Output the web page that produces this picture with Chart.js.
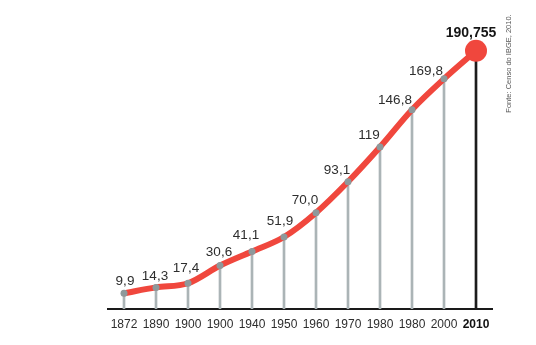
<!DOCTYPE html>
<html>
<head>
<meta charset="utf-8">
<script src="https://cdn.jsdelivr.net/npm/chart.js@4/dist/chart.umd.min.js"></script>
<style>
html,body{margin:0;padding:0;background:#fff;}
#wrap{width:536px;height:345px;position:relative;}
</style>
</head>
<body>
<div id="wrap"><canvas id="c" width="536" height="345"></canvas></div>
<script>
// ---- data ----
const categories = ['1872','1890','1900','1900','1940','1950','1960','1970','1980','1980','2000','2010'];
const population = [9.9, 14.3, 17.4, 30.6, 41.1, 51.9, 70.0, 93.1, 119, 146.8, 169.8, 190.755];
const valueLabels = ['9,9','14,3','17,4','30,6','41,1','51,9','70,0','93,1','119','146,8','169,8','190,755'];
const sourceNote = 'Fonte: Censo do IBGE, 2010.';

// ---- styles ----
const labelOffsets = [[1,-12],[-1,-11],[-2,-15],[-1,-13],[-6,-16],[-4,-16],[-11,-12],[-11,-11],[-11,-12],[-17,-9],[-18,-8],[-5,-18]];
const last = population.length - 1;
const FONT = "'Liberation Sans', Arial, Helvetica, sans-serif";

const labelPlugin = {
  id: 'valueLabels',
  afterDatasetsDraw(chart) {
    const ctx = chart.ctx;
    const meta = chart.getDatasetMeta(0);
    ctx.save();
    ctx.textAlign = 'center';
    ctx.textBaseline = 'middle';
    meta.data.forEach((pt, i) => {
      const off = labelOffsets[i];
      if (i === last) { ctx.font = "bold 14px " + FONT; ctx.fillStyle = '#151515'; }
      else { ctx.font = "13.5px " + FONT; ctx.fillStyle = '#2e2e2e'; }
      ctx.fillText(valueLabels[i], pt.x + off[0], pt.y + off[1]);
    });
    // source note, rotated
    ctx.translate(509, 63.5);
    ctx.rotate(-Math.PI / 2);
    ctx.font = "7.5px " + FONT;
    ctx.fillStyle = '#555555';
    ctx.fillText(sourceNote, 0, 0);
    ctx.restore();
  }
};

new Chart(document.getElementById('c'), {
  data: {
    labels: categories,
    datasets: [
      {
        type: 'line',
        data: population,
        order: 0,
        borderColor: '#f0473d',
        borderWidth: 6,
        cubicInterpolationMode: 'monotone',
        fill: false,
        clip: false,
        pointRadius: population.map((v, i) => i === last ? 11 : 3.5),
        pointBackgroundColor: population.map((v, i) => i === last ? '#f0473d' : '#8e999b'),
        pointBorderWidth: 0,
        borderCapStyle: 'round'
      },
      {
        type: 'bar',
        data: population,
        order: 1,
        base: -1.8,
        barThickness: 2,
        backgroundColor: population.map((v, i) => i === last ? '#1c1c1c' : '#abb4b6'),
        borderWidth: 0
      }
    ]
  },
  options: {
    responsive: false,
    animation: false,
    devicePixelRatio: 1,
    layout: { padding: { left: 108, right: 44, top: 20, bottom: 0 } },
    plugins: { legend: { display: false }, tooltip: { enabled: false } },
    scales: {
      x: {
        type: 'category',
        offset: true,
        grid: { display: false, drawTicks: false },
        border: { display: true, color: '#1a1a1a', width: 2 },
        ticks: {
          padding: 8,
          color: (c) => c.index === last ? '#111111' : '#2e2e2e',
          font: (c) => c.index === last ? { family: FONT, size: 12, weight: 'bold' } : { family: FONT, size: 12 },
          autoSkip: false,
          maxRotation: 0
        },
        afterFit: (s) => { s.height = 36; }
      },
      y: {
        display: false,
        min: -1.8,
        max: 213.7
      }
    }
  },
  plugins: [labelPlugin]
});
</script>
</body>
</html>
